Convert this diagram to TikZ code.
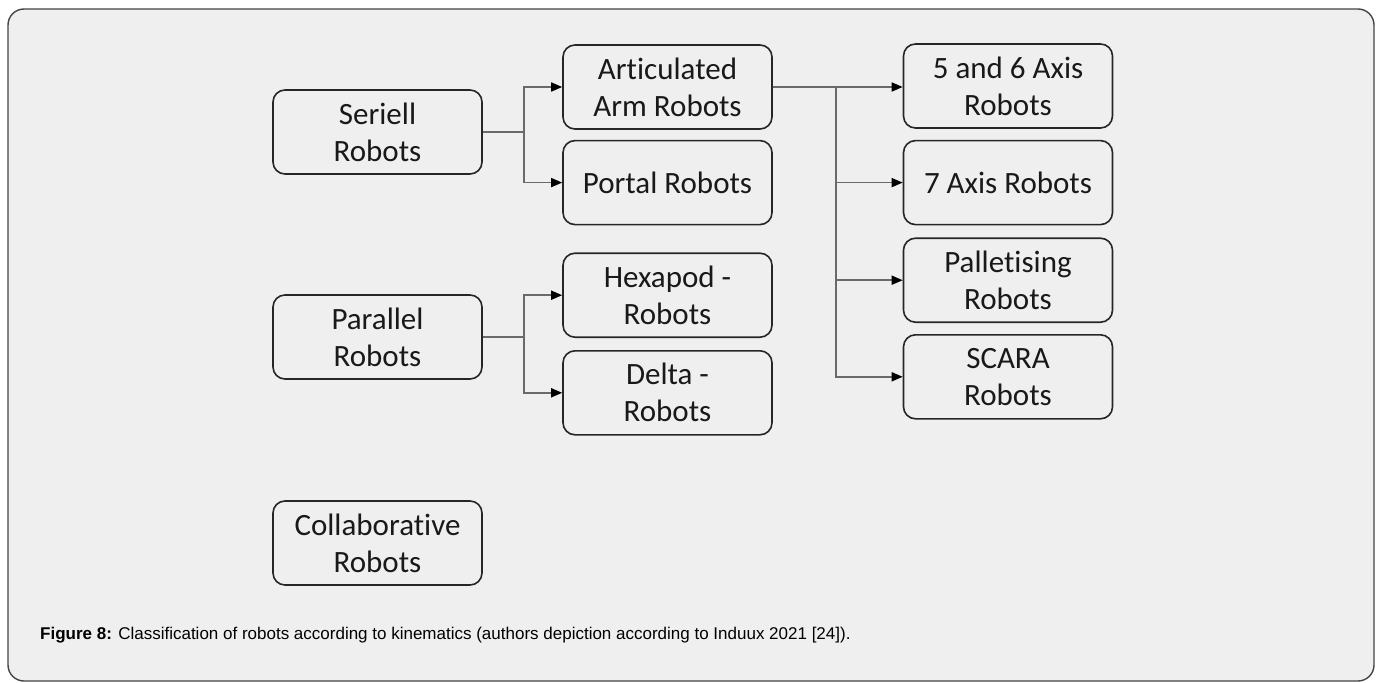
\documentclass[tikz,border=0pt]{standalone}
\usepackage{fontspec}
\setmainfont{Carlito}[RawFeature=-liga]
\newfontfamily\captionfont{Liberation Sans}
\usepackage{tikz}
\usetikzlibrary{positioning,arrows.meta}

\definecolor{panelgray}{HTML}{EFEFEF}
\definecolor{framegray}{HTML}{444444}
\definecolor{boxline}{HTML}{262626}
\definecolor{linkgray}{HTML}{6A6A6A}

\begin{document}
\begin{tikzpicture}
    [ x = 1pt, y = -1pt
    , robot/.style =
      { draw=boxline, fill=panelgray, line width=1.6pt, rounded corners=12pt
      , minimum width=209pt, minimum height=84pt, inner sep=0pt
      , align=center, text=black!90, font=\fontsize{31}{37}\selectfont }
    , link/.style =
      { draw=linkgray, line width=1.6pt }
    , tip/.style =
      { link, -{Triangle[length=11pt,width=9pt,color=black]} }
    ]
    \useasboundingbox (0,0) rectangle (1380,682);
    \draw [framegray, fill=panelgray, line width=1.4pt, rounded corners=16pt]
      (8,9) rectangle (1374,681);

    % left column
    \node [robot] (seriell) at (377.5,132) {Seriell\\Robots};
    \node [robot] (parallel) at (377.5,337) {Parallel\\Robots};
    \node [robot] (collab) at (377.5,543) {Collaborative\\Robots};

    % middle column
    \node [robot] (articulated) at (667.5,87) {Articulated\\Arm Robots};
    \node [robot] (portal) [below=10pt of articulated] {Portal Robots};
    \node [robot] (hexapod) [below=27pt of portal] {Hexapod -\\Robots};
    \node [robot] (delta) [below=12pt of hexapod] {Delta -\\Robots};

    % right column
    \node [robot] (fivesix) at (1008,86) {5 and 6 Axis\\Robots};
    \node [robot] (sevenaxis) [below=11pt of fivesix] {7 Axis Robots};
    \node [robot] (palletising) [below=12pt of sevenaxis] {Palletising\\Robots};
    \node [robot] (scara) [below=11pt of palletising] {SCARA\\Robots};

    \draw [link] (seriell.east) -- ++(41,0) coordinate (sj);
    \draw [tip] (sj) |- (articulated);
    \draw [tip] (sj) |- (portal);

    \draw [link] (parallel.east) -- ++(41,0) coordinate (pj);
    \draw [tip] (pj) |- (hexapod);
    \draw [tip] (pj) |- (delta);

    \draw [tip] (articulated.east) -- (articulated.east -| fivesix.west);
    \path (articulated.east) ++(63,0) coordinate (aj);
    \draw [link] (aj) -- (aj |- scara);
    \draw [tip] (aj) |- (sevenaxis);
    \draw [tip] (aj) |- (palletising);
    \draw [tip] (aj) |- (scara);

    \node [anchor=west, inner sep=0pt, font=\captionfont\fontsize{17}{20}\selectfont]
      (caption) at (40,635)
      {\textbf{Figure 8:} Classification of robots according to kinematics (authors depiction according to Induux 2021 [24]).};
\end{tikzpicture}
\end{document}
